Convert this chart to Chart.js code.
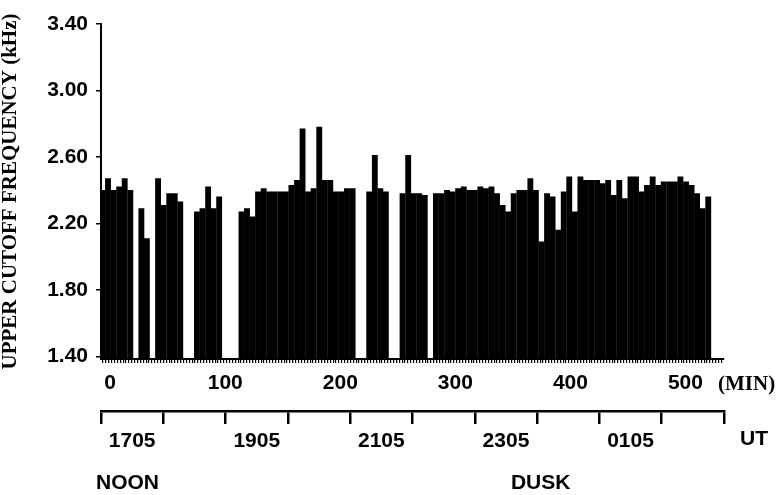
<!DOCTYPE html>
<html>
<head>
<meta charset="utf-8">
<script src="https://cdn.jsdelivr.net/npm/chart.js@4.4.1/dist/chart.umd.min.js"></script>
<style>
  body { margin: 0; background: #fff; }
  #wrap { width: 781px; height: 495px; }
</style>
</head>
<body>
<div id="wrap"><canvas id="cutoffChart" width="781" height="495"></canvas></div>
<script>
// sample times (minutes) and upper cutoff frequency (kHz); null = no emission
const sampleMinutes = [
  -6.7, -1.9, 3.0, 7.8, 12.6, 17.5, 22.3, 27.1, 31.9, 36.8,
  41.6, 46.4, 51.3, 56.1, 60.9, 65.8, 70.6, 75.4, 80.2, 85.1,
  89.9, 94.7, 99.6, 104.4, 109.2, 114.1, 118.9, 123.7, 128.5, 133.4,
  138.2, 143.0, 147.9, 152.7, 157.5, 162.4, 167.2, 172.0, 176.8, 181.7,
  186.5, 191.3, 196.2, 201.0, 205.8, 210.7, 215.5, 220.3, 225.1, 230.0,
  234.8, 239.6, 244.5, 249.3, 254.1, 259.0, 263.8, 268.6, 273.4, 278.3,
  283.1, 287.9, 292.8, 297.6, 302.4, 307.3, 312.1, 316.9, 321.7, 326.6,
  331.4, 336.2, 341.1, 345.9, 350.7, 355.6, 360.4, 365.2, 370.0, 374.9,
  379.7, 384.5, 389.4, 394.2, 399.0, 403.9, 408.7, 413.5, 418.3, 423.2,
  428.0, 432.8, 437.7, 442.5, 447.3, 452.2, 457.0, 461.8, 466.6, 471.5,
  476.3, 481.1, 486.0, 490.8, 495.6, 500.5, 505.3, 510.1, 514.9, 519.8
];
const cutoffKHz = [
  2.40, 2.47, 2.40, 2.42, 2.47, 2.40, null, 2.29, 2.11, null,
  2.47, 2.31, 2.38, 2.38, 2.33, null, null, 2.27, 2.29, 2.42,
  2.29, 2.36, null, null, null, 2.27, 2.29, 2.24, 2.39, 2.41,
  2.39, 2.39, 2.39, 2.39, 2.43, 2.46, 2.77, 2.39, 2.41, 2.78,
  2.46, 2.46, 2.39, 2.39, 2.41, 2.41, null, null, 2.39, 2.61,
  2.41, 2.39, null, null, 2.38, 2.61, 2.38, 2.38, 2.37, null,
  2.38, 2.38, 2.40, 2.39, 2.41, 2.42, 2.40, 2.40, 2.42, 2.41,
  2.42, 2.38, 2.31, 2.27, 2.38, 2.40, 2.40, 2.47, 2.40, 2.09,
  2.38, 2.36, 2.16, 2.39, 2.48, 2.27, 2.48, 2.46, 2.46, 2.46,
  2.44, 2.46, 2.37, 2.46, 2.35, 2.48, 2.48, 2.39, 2.43, 2.48,
  2.43, 2.45, 2.45, 2.45, 2.48, 2.45, 2.43, 2.38, 2.29, 2.36
];

const yTicks = [1.40, 1.80, 2.20, 2.60, 3.00, 3.40];
// UT axis: hours after 1705, labels every two hours
const utHours = [0, 1, 2, 3, 4, 5, 6, 7, 8, 9];
const utLabels = ["1705", "", "1905", "", "2105", "", "2305", "", "0105", ""];

const tickFont = { family: "Liberation Sans", weight: "bold", size: 21 };

// extra labels: (MIN), UT, NOON, DUSK
const extraText = {
  id: "extraText",
  afterDraw(chart) {
    const { ctx, chartArea, scales } = chart;
    ctx.save();
    ctx.fillStyle = "#000";
    ctx.textBaseline = "middle";
    ctx.textAlign = "left";
    ctx.font = 'bold 21px "Liberation Serif"';
    ctx.fillText("(MIN)", chartArea.right - 6, scales.x.top + 26);
    ctx.font = 'bold 21px "Liberation Sans"';
    ctx.fillText("UT", chartArea.right + 16, scales.ut.top + 28);
    ctx.fillText("NOON", scales.ut.left - 5, 483);
    ctx.fillText("DUSK", scales.ut.getPixelForValue(6.08), 483);
    ctx.restore();
  },
};

new Chart(document.getElementById("cutoffChart"), {
  type: "bar",
  data: {
    datasets: [
      {
        data: sampleMinutes.map((t, i) => ({ x: t, y: cutoffKHz[i] })),
        backgroundColor: "#000",
        borderWidth: 0,
        barThickness: 5.2,
      },
    ],
  },
  options: {
    responsive: false,
    animation: false,
    devicePixelRatio: 1,
    layout: { padding: { top: 24, right: 57, bottom: 39, left: 0 } },
    plugins: { legend: { display: false }, tooltip: { enabled: false } },
    scales: {
      x: {
        type: "linear",
        position: "bottom",
        weight: 0,
        min: -8,
        max: 533.5,
        offset: false,
        // dense comb of small ticks under the baseline
        afterBuildTicks: (s) => {
          const t = [];
          for (let m = -7.5; m <= 532.5; m += 2.5) t.push({ value: m });
          s.ticks = t;
        },
        ticks: {
          autoSkip: false,
          maxRotation: 0,
          minRotation: 0,
          padding: 8,
          color: "#000",
          font: tickFont,
          callback: (v) => (Math.abs(v % 100) < 0.01 ? String(Math.round(v)) : ""),
        },
        grid: { drawOnChartArea: false, tickLength: 4, color: "#000", lineWidth: 1.2 },
        border: { color: "#000", width: 2 },
        afterFit: (s) => { s.height = 52; },
      },
      ut: {
        type: "linear",
        position: "bottom",
        weight: 1,
        min: 0,
        max: 9,
        afterBuildTicks: (s) => { s.ticks = utHours.map((h) => ({ value: h })); },
        ticks: {
          autoSkip: false,
          maxRotation: 0,
          minRotation: 0,
          padding: 5,
          color: "#000",
          font: tickFont,
          callback: (v, i) => utLabels[i],
        },
        grid: { drawOnChartArea: false, tickLength: 13, color: "#000", lineWidth: 2.5 },
        border: { color: "#000", width: 2.5 },
        afterFit: (s) => { s.height = 45; },
      },
      y: {
        min: 1.385,
        max: 3.4,
        afterBuildTicks: (s) => { s.ticks = yTicks.map((v) => ({ value: v })); },
        ticks: {
          padding: 8,
          color: "#000",
          font: tickFont,
          callback: (v) => v.toFixed(2),
        },
        grid: { drawOnChartArea: false, tickLength: 5, color: "#000", lineWidth: 1.5 },
        border: { color: "#000", width: 2 },
        title: {
          display: true,
          text: "UPPER CUTOFF FREQUENCY (kHz)",
          color: "#000",
          font: { family: "Liberation Serif", weight: "bold", size: 21, lineHeight: 1 },
          padding: 0,
        },
        afterFit: (s) => { s.width = 101; },
      },
    },
  },
  plugins: [extraText],
});
</script>
</body>
</html>
